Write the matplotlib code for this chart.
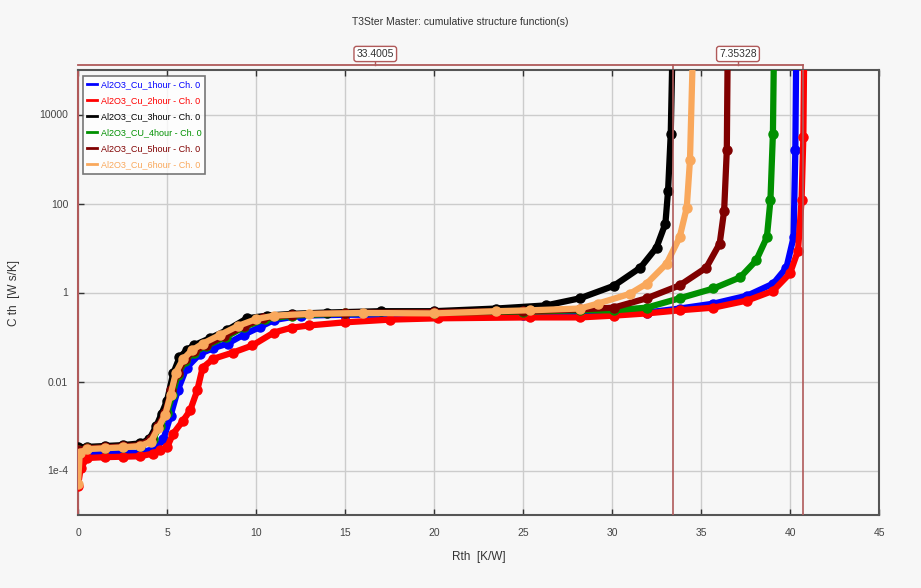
import numpy as np
import matplotlib
matplotlib.use("Agg")
import matplotlib.pyplot as plt

plt.rcParams['font.family'] = ['Liberation Sans Narrow', 'Liberation Sans', 'DejaVu Sans']

# ---- data (Rth in K/W, log10 of Cth in Ws/K) ----
labels = ['Al2O3_Cu_1hour - Ch. 0', 'Al2O3_Cu_2hour - Ch. 0', 'Al2O3_Cu_3hour - Ch. 0',
          'Al2O3_CU_4hour - Ch. 0', 'Al2O3_Cu_5hour - Ch. 0', 'Al2O3_Cu_6hour - Ch. 0']
colors = ['#0000ff', '#ff0000', '#000000', '#009000', '#800000', '#f9a85c']

rth_1h = [0, 0.15, 0.5, 1.5, 2.5, 3.5, 4.4, 4.8, 5.2, 5.6, 6.1, 6.85, 7.6, 8.4, 9.3, 10.2, 11,
          12.5, 15, 20, 25, 28.2, 31.95, 33.8, 35.7, 37.6, 39.06, 39.8, 40.2, 40.3, 40.35]
lc_1h = [-3.9, -3.65, -3.62, -3.62, -3.61, -3.6, -3.5, -3.3, -2.77, -2.2, -1.69, -1.38, -1.25,
         -1.15, -0.95, -0.78, -0.62, -0.52, -0.5, -0.5, -0.5, -0.47, -0.45, -0.36, -0.25, -0.07,
         0.2, 0.56, 1.24, 3.2, 5.5]

rth_2h = [0, 0.15, 0.5, 1.5, 2.5, 3.5, 4.2, 4.6, 5.0, 5.35, 5.9, 6.3, 6.7, 7.0, 7.6, 8.7, 9.8,
          11, 12, 13, 15, 17.5, 20.2, 25.4, 28.2, 30.1, 31.95, 33.8, 35.7, 37.6, 39.06, 40,
          40.45, 40.65, 40.75, 40.8]
lc_2h = [-4.34, -3.95, -3.72, -3.7, -3.69, -3.68, -3.62, -3.55, -3.48, -3.17, -2.88, -2.65,
         -2.2, -1.69, -1.49, -1.35, -1.19, -0.9, -0.79, -0.74, -0.67, -0.61, -0.58, -0.56,
         -0.56, -0.52, -0.47, -0.4, -0.34, -0.18, 0.04, 0.43, 0.94, 2.07, 3.5, 5.5]

rth_3h = [0, 0.5, 1.5, 2.5, 3.5, 4.0, 4.4, 4.7, 5.0, 5.35, 5.7, 6.1, 6.5, 7.4, 8.35, 9.5, 10.6,
          12, 14, 17, 20, 23.5, 26.3, 28.2, 30.1, 31.6, 32.5, 33.0, 33.15, 33.3, 33.4]
lc_3h = [-3.48, -3.47, -3.45, -3.43, -3.39, -3.3, -3.0, -2.72, -2.43, -1.82, -1.46, -1.3,
         -1.19, -1.03, -0.85, -0.58, -0.52, -0.48, -0.45, -0.42, -0.42, -0.36, -0.29, -0.13,
         0.15, 0.56, 1.01, 1.55, 2.29, 3.57, 5.5]

rth_4h = [0, 0.5, 1.5, 2.5, 3.5, 4.2, 4.6, 5.0, 5.3, 5.6, 6.0, 6.5, 7.2, 8.3, 9.3, 10.5, 12,
          15, 20, 25, 28.2, 30.1, 31.95, 33.8, 35.7, 37.2, 38.1, 38.7, 38.9, 39.04, 39.1]
lc_4h = [-3.55, -3.5, -3.49, -3.47, -3.44, -3.3, -3.0, -2.7, -2.3, -1.85, -1.55, -1.35, -1.2,
         -1.0, -0.78, -0.6, -0.52, -0.47, -0.45, -0.43, -0.4, -0.4, -0.34, -0.13, 0.09, 0.34,
         0.72, 1.24, 2.07, 3.57, 5.5]

rth_5h = [0, 0.5, 1.5, 2.5, 3.5, 4.1, 4.5, 4.9, 5.25, 5.6, 6.0, 6.5, 7.2, 8.2, 9.3, 10.4, 12,
          15, 20, 25, 28.2, 30.1, 31.95, 33.8, 35.3, 36.05, 36.3, 36.45, 36.5]
lc_5h = [-3.55, -3.5, -3.48, -3.46, -3.43, -3.3, -3.0, -2.7, -2.2, -1.8, -1.5, -1.32, -1.18,
         -0.98, -0.76, -0.58, -0.5, -0.46, -0.44, -0.42, -0.38, -0.34, -0.13, 0.16, 0.56,
         1.1, 1.84, 3.2, 5.5]

rth_6h = [0, 0.1, 0.5, 1.5, 2.5, 3.5, 4.1, 4.5, 4.9, 5.2, 5.5, 5.9, 6.4, 7.0, 8.0, 9.0, 10.0,
          11, 13, 16, 20, 23.5, 25.4, 28.2, 29.2, 31, 31.95, 33.07, 33.8, 34.2, 34.38, 34.55]
lc_6h = [-4.3, -3.6, -3.52, -3.5, -3.48, -3.45, -3.35, -3.05, -2.75, -2.3, -1.8, -1.5, -1.3,
         -1.15, -0.95, -0.75, -0.6, -0.52, -0.48, -0.46, -0.47, -0.42, -0.4, -0.36, -0.25,
         -0.03, 0.2, 0.65, 1.24, 1.91, 2.97, 5.5]

curves = [(rth_1h, lc_1h), (rth_2h, lc_2h), (rth_3h, lc_3h),
          (rth_4h, lc_4h), (rth_5h, lc_5h), (rth_6h, lc_6h)]

# cursor markers
cursor_a = 33.4005
cursor_b = 40.75378
cursor_labels = ['33.4005', '7.35328']

x_ticks = [0, 5, 10, 15, 20, 25, 30, 35, 40, 45]
y_ticks = [1e-4, 1e-2, 1, 1e2, 1e4]
y_ticklabels = ['1e-4', '0.01', '1', '100', '10000']

bg = '#f7f7f7'
cur_col = '#b05a5a'

fig = plt.figure(figsize=(9.21, 5.88), dpi=100, facecolor=bg)
ax = fig.add_axes([78 / 921, 73 / 588, (879 - 78) / 921, (515 - 70) / 588])
ax.set_facecolor(bg)

for (r, lc), lab, c in zip(curves, labels, colors):
    ax.plot(r, 10 ** np.array(lc), color=c, lw=4.5, marker='o', ms=6.5,
            mec=c, label=lab, zorder=3, clip_on=True)

ax.set_yscale('log')
ax.set_xlim(0, 45)
ax.set_ylim(1e-5, 1e5)
ax.set_xticks(x_ticks)
ax.set_xticklabels([str(v) for v in x_ticks])
ax.set_yticks(y_ticks)
ax.set_yticklabels(y_ticklabels)
ax.minorticks_off()
ax.tick_params(direction='in', length=4, width=1, colors='#333333', labelsize=7.5,
               top=True, labelcolor='#444444')
ax.tick_params(axis='x', pad=9)
ax.tick_params(axis='y', pad=7)
ax.grid(True, color='#cccccc', lw=1, zorder=0)

for s in ['bottom', 'top', 'right']:
    ax.spines[s].set_color('#555555')
    ax.spines[s].set_linewidth(1.5)
ax.spines['left'].set_color(cur_col)
ax.spines['left'].set_linewidth(1.5)

# cursors
ytop = 1.012
for xv in [cursor_a, cursor_b]:
    ax.axvline(xv, color=cur_col, lw=1.2, zorder=4)
    ax.plot([xv, xv], [1.0, ytop], transform=ax.get_xaxis_transform(), color=cur_col,
            lw=1.2, clip_on=False)
ax.plot([0, cursor_b], [ytop, ytop], transform=ax.get_xaxis_transform(), color=cur_col,
        lw=1.3, clip_on=False)
mids = [cursor_a / 2, (cursor_a + cursor_b) / 2]
for xm, t in zip(mids, cursor_labels):
    ax.plot([xm, xm], [ytop, ytop + 0.008], transform=ax.get_xaxis_transform(),
            color=cur_col, lw=1, clip_on=False)
    ax.text(xm, 1.036, t, transform=ax.get_xaxis_transform(), ha='center', va='center',
            fontsize=7.5, color='#333333',
            bbox=dict(boxstyle='round,pad=0.25', fc='white', ec=cur_col, lw=1))

leg = ax.legend(loc='upper left', bbox_to_anchor=(0.004, 0.99), fontsize=6.5,
                frameon=True, fancybox=False, handlelength=1.1, handletextpad=0.4,
                borderpad=0.45, labelspacing=0.78, borderaxespad=0.2)
leg.get_frame().set_edgecolor('#555555')
leg.get_frame().set_linewidth(1.2)
leg.get_frame().set_facecolor('white')
for h in leg.legend_handles:
    h.set_marker('')
    h.set_linewidth(2)
for txt, c in zip(leg.get_texts(), colors):
    txt.set_color(c)

ax.set_xlabel('Rth  [K/W]', fontsize=8.5, color='#333333', labelpad=10)
ax.set_ylabel('C th  [W s/K]', fontsize=8.5, color='#333333', labelpad=14)
fig.text(0.5, 0.962, 'T3Ster Master: cumulative structure function(s)', ha='center',
         va='center', fontsize=7.5, color='#333333')

fig.savefig('out.png', dpi=100, facecolor=bg)
